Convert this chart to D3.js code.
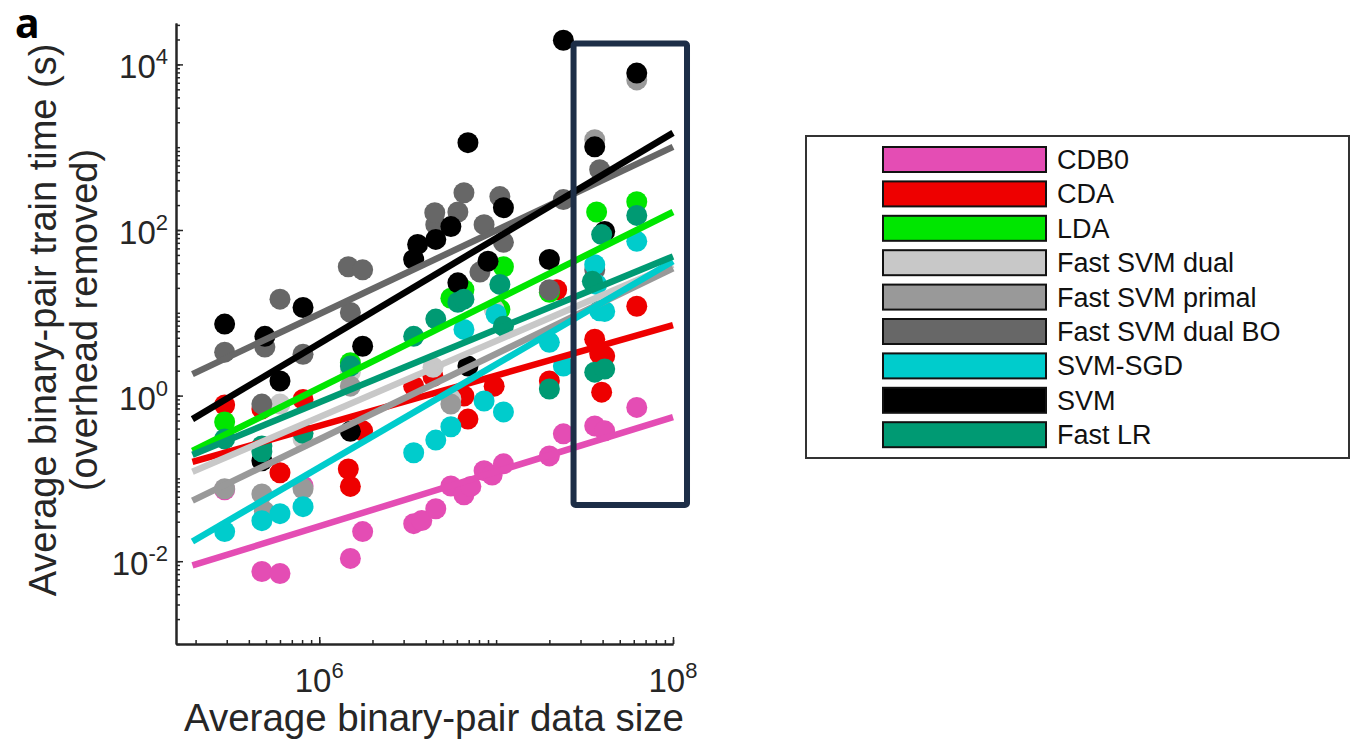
<!DOCTYPE html>
<html>
<head>
<meta charset="utf-8">
<script src="https://cdn.jsdelivr.net/npm/d3@7"></script>
<style>
  body { margin: 0; background: #fff; }
  svg { display: block; font-family: "Liberation Sans", Arial, sans-serif; }
  .panel { font-family: "Noto Sans", "DejaVu Sans", sans-serif; font-weight: 700; }
</style>
</head>
<body>
<svg id="chart" width="1352" height="746"></svg>
<script>
// methods, in legend (and drawing) order
const methods = ["CDB0", "CDA", "LDA", "Fast SVM dual", "Fast SVM primal",
  "Fast SVM dual BO", "SVM-SGD", "SVM", "Fast LR"];
const colors = ["#e44db4", "#ee0000", "#00e600", "#c8c8c8", "#999999",
  "#676767", "#00cccc", "#000000", "#009a73"];

// [average binary-pair data size, train time (s)]
const cdb0 = [[2.92e5, 0.073], [4.74e5, 0.0075], [6.0e5, 0.0071], [8.1e5, 0.081],
  [1.5e6, 0.0108], [1.76e6, 0.0228], [3.42e6, 0.0284], [3.8e6, 0.031], [4.56e6, 0.043],
  [5.55e6, 0.081], [6.58e6, 0.0635], [7.2e6, 0.08], [8.55e6, 0.124], [9.5e6, 0.11],
  [1.1e7, 0.15], [2.0e7, 0.187], [2.4e7, 0.345], [3.61e7, 0.43], [4.11e7, 0.375],
  [6.24e7, 0.72]];
const cda = [[2.92e5, 0.77], [4.74e5, 0.69], [6.0e5, 0.117], [8.1e5, 0.9],
  [1.46e6, 0.13], [1.5e6, 0.08], [1.76e6, 0.375], [3.42e6, 1.3], [4.4e6, 1.7],
  [6.58e6, 0.99], [6.93e6, 0.52], [9.75e6, 1.3], [2.0e7, 1.5], [2.2e7, 19],
  [3.61e7, 4.8], [3.85e7, 3.2], [4.11e7, 3.0], [3.95e7, 1.1], [6.24e7, 12]];
const lda = [[2.92e5, 0.48], [1.5e6, 2.5], [5.55e6, 15], [6.58e6, 19], [1.05e7, 11],
  [1.1e7, 36], [2.0e7, 17.7], [3.7e7, 165], [6.24e7, 220]];
const svmDual = [[6.0e5, 0.79], [8.1e5, 0.30], [1.5e6, 1.92], [4.4e6, 2.2],
  [5.55e6, 0.91], [9.75e6, 11]];
const svmPrimal = [[2.92e5, 0.075], [4.74e5, 0.065], [4.9e5, 0.04], [8.1e5, 0.075],
  [1.5e6, 1.3], [5.55e6, 0.79], [3.61e7, 1230], [6.24e7, 6500]];
const svmDualBO = [[2.92e5, 3.35], [4.74e5, 0.79], [4.93e5, 3.85], [6.0e5, 14.6],
  [8.1e5, 3.16], [1.46e6, 36], [1.5e6, 10.1], [1.76e6, 33], [4.56e6, 116],
  [4.5e6, 162], [6.08e6, 165], [6.58e6, 282], [8.1e6, 31], [8.55e6, 116],
  [1.05e7, 253], [1.1e7, 71], [2.0e7, 19], [2.4e7, 233], [3.61e7, 33], [3.85e7, 535]];
const svmSgd = [[2.92e5, 0.0228], [4.74e5, 0.0309], [6.0e5, 0.0375], [8.1e5, 0.0456],
  [3.42e6, 0.204], [4.56e6, 0.29], [5.55e6, 0.42], [6.58e6, 6.3], [8.55e6, 0.86],
  [1.0e7, 9.6], [1.1e7, 0.635], [2.0e7, 4.4], [2.4e7, 2.27], [3.61e7, 38],
  [3.7e7, 22], [3.85e7, 10.6], [4.11e7, 10.4], [6.24e7, 73]];
const svm = [[2.92e5, 7.3], [4.74e5, 0.163], [4.93e5, 5.2], [6.0e5, 1.5], [8.1e5, 11.6],
  [1.5e6, 0.37], [1.76e6, 3.95], [3.42e6, 44], [3.6e6, 67], [4.56e6, 77],
  [5.55e6, 110], [6.08e6, 23], [6.93e6, 1135], [6.93e6, 2.27], [9.0e6, 42],
  [1.1e7, 186], [2.0e7, 44], [2.4e7, 19600], [3.61e7, 1010], [4.11e7, 96],
  [6.24e7, 7850]];
const fastLr = [[2.92e5, 0.30], [4.74e5, 0.247], [4.74e5, 0.21], [8.1e5, 0.35],
  [1.5e6, 2.27], [3.42e6, 5.2], [4.56e6, 8.4], [6.08e6, 13.4], [6.58e6, 14.6],
  [1.05e7, 22], [1.1e7, 6.9], [2.0e7, 1.2], [3.5e7, 24], [3.61e7, 1.92],
  [3.95e7, 88], [4.11e7, 2.09], [6.24e7, 150]];
const points = [cdb0, cda, lda, svmDual, svmPrimal, svmDualBO, svmSgd, svm, fastLr];

// fitted power-law lines: time at fitX[0] and fitX[1]
const fitX = [1.92e5, 1e8];
const fitStart = [0.0089, 0.158, 0.215, 0.12, 0.054, 1.82, 0.0173, 0.52, 0.193];
const fitEnd = [0.55, 7.1, 165, 38, 34.5, 1010, 42, 1490, 48];

// highlighted datasets (largest ones)
const boxX = [2.74e7, 1.2e8];
const boxY = [0.0478, 1.79e4];

const xMajor = [1e6, 1e8];
const yMajor = [1e-2, 1e0, 1e2, 1e4];

const svg = d3.select("#chart");
const axisColor = "#262626";

const x = d3.scaleLog().domain([1.55e5, 1e8]).range([176, 673]);
const y = d3.scaleLog().domain([1e-3, Math.pow(10, 4.5)]).range([644, 23]);

function logTicks(scale) {
  const [lo, hi] = scale.domain();
  const ticks = [];
  for (let e = Math.floor(Math.log10(lo)); e <= Math.ceil(Math.log10(hi)); e++) {
    for (let m = 1; m < 10; m++) {
      const v = m * Math.pow(10, e);
      if (v >= lo * 0.999 && v <= hi * 1.001) ticks.push(v);
    }
  }
  return ticks;
}

// points first, lines on top
const gPoints = svg.append("g");
points.forEach((pts, i) => {
  gPoints.append("g")
    .selectAll("circle")
    .data(pts)
    .join("circle")
    .attr("cx", (d) => x(d[0]))
    .attr("cy", (d) => y(d[1]))
    .attr("r", 10.5)
    .attr("fill", colors[i]);
});

const gLines = svg.append("g");
methods.forEach((m, i) => {
  gLines.append("line")
    .attr("x1", x(fitX[0]))
    .attr("y1", y(fitStart[i]))
    .attr("x2", x(fitX[1]))
    .attr("y2", y(fitEnd[i]))
    .attr("stroke", colors[i])
    .attr("stroke-width", 6.5);
});

// axes, MATLAB style ticks pointing inward
function styleAxis(g) {
  g.selectAll("path").attr("stroke", axisColor).attr("stroke-width", 2);
  g.selectAll("line").attr("stroke", axisColor).attr("stroke-width", 1.5);
}

svg.append("g")
  .attr("transform", "translate(0,644)")
  .call(d3.axisBottom(x).tickValues(logTicks(x)).tickSize(-4).tickSizeOuter(0).tickFormat(() => ""))
  .call(styleAxis);
svg.append("g")
  .attr("transform", "translate(0,644)")
  .call(d3.axisBottom(x).tickValues(xMajor).tickSize(-7).tickSizeOuter(0).tickFormat(() => ""))
  .call(styleAxis);
svg.append("g")
  .attr("transform", "translate(176,0)")
  .call(d3.axisLeft(y).tickValues(logTicks(y)).tickSize(-4).tickSizeOuter(0).tickFormat(() => ""))
  .call(styleAxis);
svg.append("g")
  .attr("transform", "translate(176,0)")
  .call(d3.axisLeft(y).tickValues(yMajor).tickSize(-7).tickSizeOuter(0).tickFormat(() => ""))
  .call(styleAxis);

// tick labels 10^n
function powerLabel(sel, v) {
  sel.append("tspan").text("10");
  sel.append("tspan")
    .attr("dy", -14)
    .attr("font-size", 22)
    .text(String(Math.round(Math.log10(v))));
}

xMajor.forEach((v) => {
  svg.append("text")
    .attr("x", x(v))
    .attr("y", 692)
    .attr("text-anchor", "middle")
    .attr("font-size", 33)
    .attr("fill", axisColor)
    .call(powerLabel, v);
});
yMajor.forEach((v) => {
  svg.append("text")
    .attr("x", 168)
    .attr("y", y(v) + 14)
    .attr("text-anchor", "end")
    .attr("font-size", 33)
    .attr("fill", axisColor)
    .call(powerLabel, v);
});

// axis titles
svg.append("text")
  .attr("x", 434)
  .attr("y", 731)
  .attr("text-anchor", "middle")
  .attr("font-size", 38.5)
  .attr("fill", axisColor)
  .text("Average binary-pair data size");

const yTitle = svg.append("text")
  .attr("transform", "translate(0,320) rotate(-90)")
  .attr("text-anchor", "middle")
  .attr("font-size", 38)
  .attr("fill", axisColor);
yTitle.append("tspan").attr("x", 0).attr("y", 56).text("Average binary-pair train time (s)");
yTitle.append("tspan").attr("x", 0).attr("y", 97).text("(overhead removed)");

// panel letter
svg.append("text")
  .attr("class", "panel")
  .attr("x", 15)
  .attr("y", 38)
  .attr("font-size", 41)
  .attr("fill", "#000")
  .text("a");

// highlight box around the largest datasets
svg.append("rect")
  .attr("x", x(boxX[0]))
  .attr("y", y(boxY[1]))
  .attr("width", x(boxX[1]) - x(boxX[0]))
  .attr("height", y(boxY[0]) - y(boxY[1]))
  .attr("rx", 2)
  .attr("fill", "none")
  .attr("stroke", "#1d2e47")
  .attr("stroke-width", 6);

// legend
const legend = svg.append("g");
legend.append("rect")
  .attr("x", 806)
  .attr("y", 136)
  .attr("width", 543)
  .attr("height", 322)
  .attr("fill", "#fff")
  .attr("stroke", "#333")
  .attr("stroke-width", 2);

const rows = legend.selectAll("g.row")
  .data(methods)
  .join("g")
  .attr("class", "row")
  .attr("transform", (d, i) => `translate(0,${147 + i * 34.4})`);
rows.append("rect")
  .attr("x", 883)
  .attr("y", 0)
  .attr("width", 163)
  .attr("height", 25)
  .attr("fill", (d, i) => colors[i])
  .attr("stroke", "#111")
  .attr("stroke-width", 2);
rows.append("text")
  .attr("x", 1057)
  .attr("y", 22)
  .attr("font-size", 27)
  .attr("fill", "#111")
  .text((d) => d);
</script>
</body>
</html>
